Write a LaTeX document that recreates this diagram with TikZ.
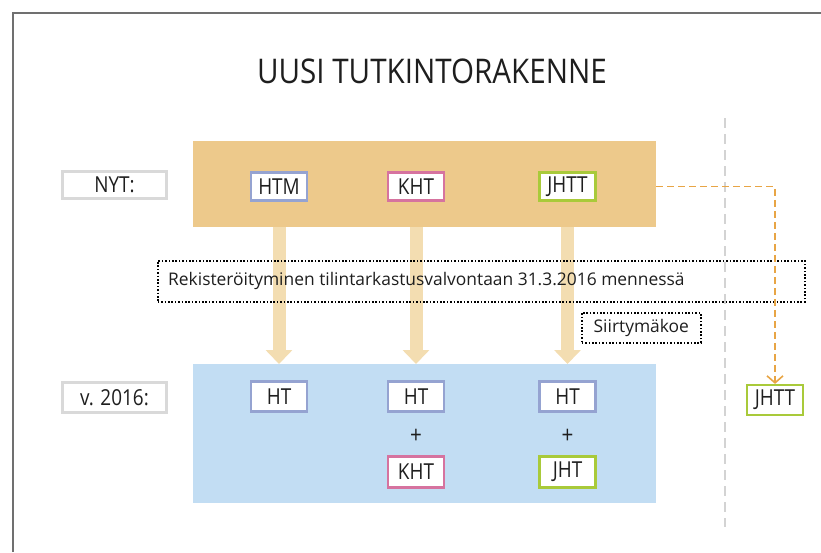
\documentclass[tikz,border=0pt]{standalone}
\usepackage{fontspec}
\setmainfont{Open Sans}[FakeStretch=0.86]
\newfontfamily\titlefont{Open Sans}[FakeStretch=0.87]
\newfontfamily\notefont{Open Sans}
\usetikzlibrary{arrows.meta,positioning}
\definecolor{orangebg}{HTML}{EDC98B}
\definecolor{arrowtan}{HTML}{F3DDB1}
\definecolor{bluebg}{HTML}{C2DDF3}
\definecolor{htblue}{HTML}{95A3D1}
\definecolor{khtpink}{HTML}{D6739F}
\definecolor{jhtgreen}{HTML}{A9CA3A}
\definecolor{graylabel}{HTML}{D9D9D9}
\definecolor{dashorange}{HTML}{E8A545}
\definecolor{framegray}{HTML}{707070}
\definecolor{vgray}{HTML}{D3D3D3}
\definecolor{txt}{HTML}{1E1E1E}
\tikzset{
  panel/.style={inner sep=0pt, anchor=north west},
  degbox/.style={draw, line width=2.2pt, fill=white, minimum width=56pt, minimum height=28pt, inner sep=0pt, font=\fontsize{22}{22}\selectfont, text=txt},
  sidelabel/.style={draw=graylabel, line width=2.5pt, fill=white, minimum width=104pt, minimum height=27pt, inner sep=0pt, font=\fontsize{22}{22}\selectfont, text=txt},
  fatarrow/.style={draw=arrowtan, line width=13pt, -{Triangle[width=26pt,length=14pt]}},
  dotbox/.style={draw=black, line width=1.6pt, dash pattern=on 1.6pt off 1.8pt, inner sep=0pt, anchor=north west},
  notetext/.style={font=\notefont\fontsize{17.4}{17.4}\selectfont, text=txt, inner sep=0pt},
  plus/.style={font=\fontsize{24}{24}\selectfont, text=txt},
}
\begin{document}
\begin{tikzpicture}[x=1pt,y=-1pt]
\useasboundingbox (0,0) rectangle (821,552);
% frame
\draw[framegray, line width=1.2pt] (13,552) -- (13,13) -- (821,13);
% title
\node[font=\titlefont\fontsize{34}{34}\selectfont, text=txt] (title) at (432,71) {UUSI TUTKINTORAKENNE};
% panels
\node[panel, fill=orangebg, minimum width=463pt, minimum height=86pt] (orange) at (193,141) {};
\node[panel, fill=bluebg, minimum width=463pt, minimum height=139pt] (blue) at (193,364) {};
% vertical grey dashed line
\coordinate (vtop) at (725,118);
\coordinate (vbot) at (725,527);
\draw[vgray, line width=2.8pt, dash pattern=on 10pt off 6pt] (vtop) -- (vbot);
% side labels
\node[sidelabel] (nyt) at (114.5,185) {NYT:};
\node[sidelabel, minimum height=30pt] (v2016) at (114.5,397.5) {v. 2016:};
% top degrees
\node[degbox, draw=htblue] (htm) at (279,186.5) {HTM};
\node[degbox, draw=khtpink] (kht) at (416,186.5) {KHT};
\node[degbox, draw=jhtgreen] (jhtt) at (567.5,186.5) {JHTT};
% bottom degrees
\node[degbox, draw=htblue, minimum height=30pt] (ht1) at (279,396.5) {HT};
\node[degbox, draw=htblue, minimum height=30pt] (ht2) at (416,396.5) {HT};
\node[degbox, draw=htblue, minimum height=30pt] (ht3) at (567.5,396.5) {HT};
\node[plus] (p2) at (416,436) {+};
\node[plus] (p3) at (567.5,436) {+};
\node[degbox, draw=khtpink, minimum height=31pt] (kht2) at (416,472) {KHT};
\node[degbox, draw=jhtgreen, minimum height=31pt] (jht3) at (567.5,472) {JHT};
% fat arrows
\draw[fatarrow] (htm |- orange.south) -- (ht1 |- blue.north);
\draw[fatarrow] (kht |- orange.south) -- (ht2 |- blue.north);
\draw[fatarrow] (jhtt |- orange.south) -- (ht3 |- blue.north);
% dotted boxes
\node[dotbox, minimum width=647pt, minimum height=41pt] (reg) at (157,260) {};
\node[notetext, anchor=west] (regtext) at (168,280.5) {Rekisteröityminen tilintarkastusvalvontaan 31.3.2016 mennessä};
\node[dotbox, minimum width=119pt, minimum height=30pt] (siir) at (581,312) {};
\node[notetext] (siirtext) at (siir.center) {Siirtymäkoe};
% right JHTT
\node[degbox, draw=jhtgreen, minimum height=30pt] (jhttr) at (775,400) {JHTT};
% orange dashed connector
\coordinate (cstart) at (orange.east |- jhtt);
\draw[dashorange, line width=1.8pt, dash pattern=on 7pt off 4pt, -{Straight Barb[length=7pt,width=16pt,line width=1.6pt]}] (cstart) -| (jhttr.north);
\end{tikzpicture}
\end{document}
